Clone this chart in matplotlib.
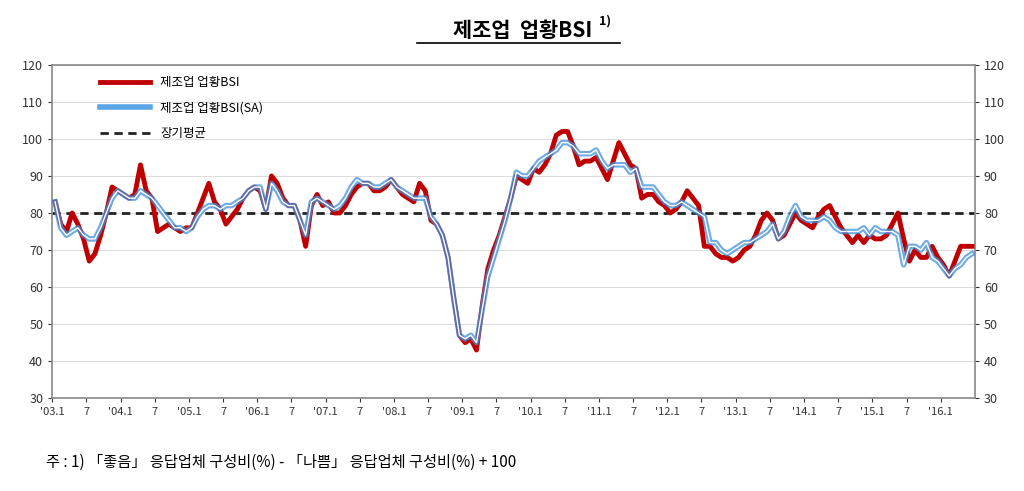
import matplotlib
matplotlib.use("Agg")
import matplotlib.pyplot as plt
import numpy as np

plt.rcParams['font.family'] = ['Noto Sans CJK KR', 'DejaVu Sans']

# monthly, 2003.1 - 2016.6
bsi = [83, 77, 75, 80, 77, 73, 67, 69, 74, 80, 87, 86,
       85, 84, 85, 93, 86, 84, 75, 76, 77, 76, 75, 76,
       76, 80, 84, 88, 83, 81, 77, 79, 81, 84, 86, 87,
       86, 81, 90, 88, 84, 82, 82, 78, 71, 82, 85, 82,
       83, 80, 80, 82, 85, 87, 88, 88, 86, 86, 87, 89,
       87, 85, 84, 83, 88, 86, 78, 77, 74, 68, 57, 47,
       45, 46, 43, 55, 65, 70, 74, 79, 84, 90, 89, 88,
       92, 91, 93, 96, 101, 102, 102, 98, 93, 94, 94, 95,
       92, 89, 94, 99, 96, 93, 92, 84, 85, 85, 83, 82,
       80, 81, 83, 86, 84, 82, 71, 71, 69, 68, 68, 67,
       68, 70, 71, 74, 78, 80, 78, 73, 74, 77, 80, 78,
       77, 76, 79, 81, 82, 79, 76, 74, 72, 74, 72, 74,
       73, 73, 74, 77, 80, 73, 67, 70, 68, 68, 71, 68,
       66, 63, 67, 71, 71, 71]
bsi_sa = [83, 76, 74, 75, 76, 74, 73, 73, 76, 80, 84, 86,
          85, 84, 84, 86, 85, 84, 82, 80, 78, 76, 76, 75,
          76, 79, 81, 82, 82, 81, 82, 82, 83, 84, 86, 87,
          87, 81, 88, 86, 83, 82, 82, 78, 74, 83, 84, 83,
          82, 81, 82, 84, 87, 89, 88, 88, 87, 87, 88, 89,
          87, 86, 85, 84, 84, 84, 79, 77, 74, 68, 57, 47,
          46, 47, 45, 54, 63, 68, 73, 78, 84, 91, 90, 90,
          92, 94, 95, 96, 97, 99, 99, 98, 96, 96, 96, 97,
          94, 92, 93, 93, 93, 91, 92, 87, 87, 87, 85, 83,
          82, 82, 83, 82, 81, 80, 79, 72, 72, 70, 69, 70,
          71, 72, 72, 73, 74, 75, 77, 73, 75, 79, 82, 79,
          78, 78, 78, 79, 78, 76, 75, 75, 75, 75, 76, 74,
          76, 75, 75, 75, 74, 66, 71, 71, 70, 72, 68, 67,
          65, 63, 65, 66, 68, 69]
long_avg = 80
tick_labels = ["'03.1", "7", "'04.1", "7", "'05.1", "7", "'06.1", "7", "'07.1", "7",
               "'08.1", "7", "'09.1", "7", "'10.1", "7", "'11.1", "7", "'12.1", "7",
               "'13.1", "7", "'14.1", "7", "'15.1", "7", "'16.1"]

x = np.arange(len(bsi))
fig = plt.figure(figsize=(10.24, 4.91), dpi=100)
ax = fig.add_axes([0.051, 0.189, 0.901, 0.679])

ax.plot(x, bsi, color='#c00000', lw=3.5, label='제조업 업황BSI', zorder=3)
ax.plot(x, bsi_sa, color='#3d8fd8', lw=4, alpha=0.75, zorder=4)
ax.plot(x, bsi_sa, color='white', lw=1, zorder=5)
ax.plot([], [], color='#5aa6e6', lw=4, label='제조업 업황BSI(SA)')
ax.axhline(long_avg, color='#222222', lw=2, ls=(0, (3, 2)), label='장기평균', zorder=2)

ax.set_xlim(-0.5, len(bsi) - 0.5)
ax.set_ylim(30, 120)
ax.set_yticks(range(30, 121, 10))
ax.set_xticks(np.arange(0, len(bsi), 6) - 0.5)
ax.set_xticklabels(tick_labels, fontsize=8)
ax.grid(axis='y', color='#dddddd', lw=0.8)
ax.tick_params(axis='y', labelsize=9, right=True, labelright=True, length=3, colors='#333333')
ax.tick_params(axis='x', length=3, colors='#333333')
for s in ax.spines.values():
    s.set_color('#888888')
    s.set_linewidth(1.2)

ax.legend(loc='upper left', bbox_to_anchor=(0.04, 1.0), frameon=False, fontsize=9,
          handlelength=4, labelspacing=1.0)

fig.text(0.51, 0.925, '제조업  업황BSI', ha='center', fontsize=15, fontweight='bold')
fig.text(0.585, 0.95, '1)', ha='left', fontsize=9, fontweight='bold')
fig.add_artist(plt.Line2D([0.407, 0.605], [0.912, 0.912], color='black', lw=1.2))
fig.text(0.045, 0.05, '주 : 1) 「좋음」 응답업체 구성비(%) - 「나쁨」 응답업체 구성비(%) + 100', fontsize=11)

fig.savefig('out.png', dpi=100)
